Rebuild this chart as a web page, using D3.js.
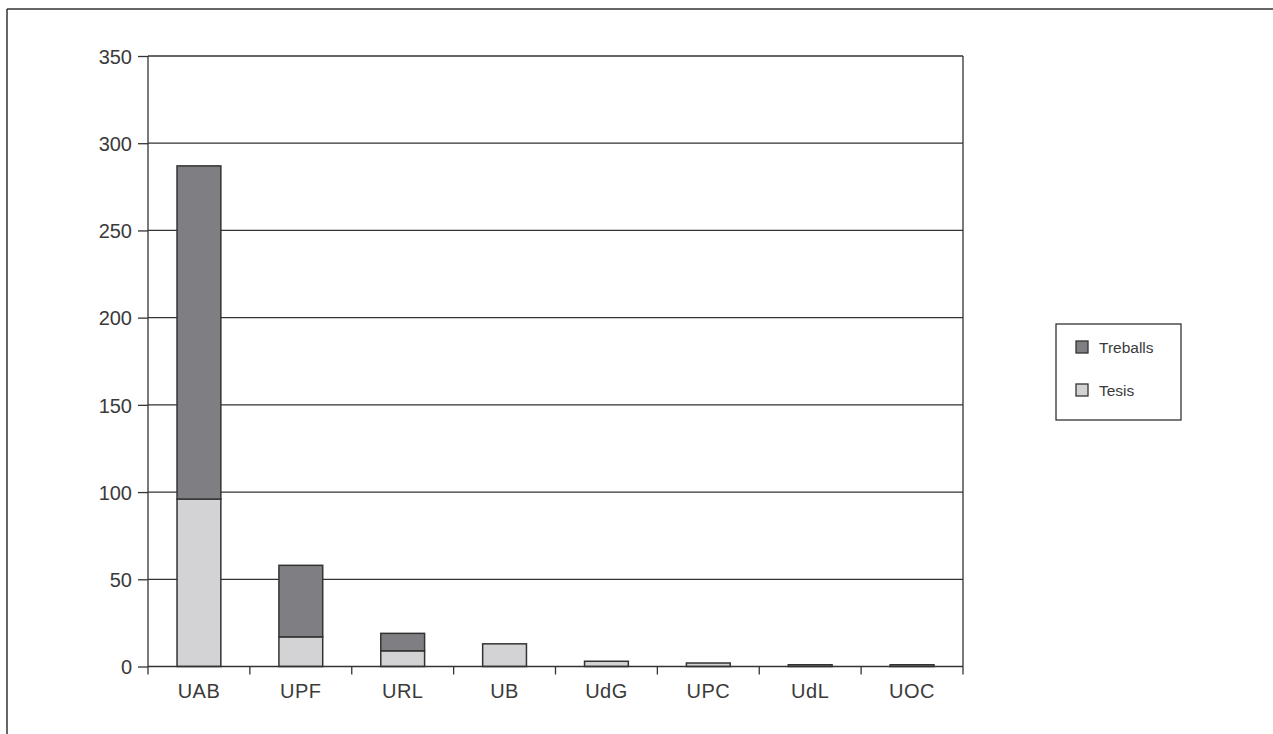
<!DOCTYPE html>
<html>
<head>
<meta charset="utf-8">
<script src="https://cdn.jsdelivr.net/npm/d3@7"></script>
<style>
  html, body { margin: 0; padding: 0; background: #fff; }
  svg { display: block; }
  text { font-family: "Liberation Sans", Arial, Helvetica, sans-serif; fill: #333; }
</style>
</head>
<body>
<svg id="chart" width="1273" height="734"></svg>
<script>
const categories = ["UAB", "UPF", "URL", "UB", "UdG", "UPC", "UdL", "UOC"];
const tesis = [96, 17, 9, 13, 3, 2, 1, 1];
const treballs = [191, 41, 10, 0, 0, 0, 0, 0];
const seriesNames = ["Tesis", "Treballs"];
const yTicks = [0, 50, 100, 150, 200, 250, 300, 350];

(function () {
const colors = { "Tesis": "#d3d3d5", "Treballs": "#7f7f83" };
const stroke = "#333";

const svg = d3.select("#chart");
const W = 1273, H = 734;

// outer frame (top & left)
svg.append("line").attr("x1", 7).attr("y1", 9).attr("x2", W).attr("y2", 9)
  .attr("stroke", stroke).attr("stroke-width", 1.5);
svg.append("line").attr("x1", 7).attr("y1", 9).attr("x2", 7).attr("y2", H)
  .attr("stroke", stroke).attr("stroke-width", 1.5);

const pLeft = 148, pRight = 963, pTop = 56, pBottom = 666.5;

const x = d3.scaleBand().domain(categories).range([pLeft, pRight]).paddingInner(0).paddingOuter(0);
const y = d3.scaleLinear().domain([0, 350]).range([pBottom, pTop]);

const g = svg.append("g");

// gridlines
g.selectAll(".grid").data(yTicks.filter(d => d > 0)).join("line")
  .attr("x1", pLeft).attr("x2", pRight)
  .attr("y1", d => y(d)).attr("y2", d => y(d))
  .attr("stroke", stroke).attr("stroke-width", 1.3);

// right border
g.append("line").attr("x1", pRight).attr("x2", pRight).attr("y1", pTop).attr("y2", pBottom)
  .attr("stroke", stroke).attr("stroke-width", 1.3);

// stacked data
const table = categories.map((c, i) => ({ cat: c, Tesis: tesis[i], Treballs: treballs[i] }));
const stack = d3.stack().keys(seriesNames)(table);

const barW = x.bandwidth() * 0.43;
stack.forEach(layer => {
  g.selectAll(".bar-" + layer.key).data(layer.filter(d => d[1] - d[0] > 0)).join("rect")
    .attr("x", d => x(d.data.cat) + (x.bandwidth() - barW) / 2)
    .attr("width", barW)
    .attr("y", d => y(d[1]))
    .attr("height", d => y(d[0]) - y(d[1]))
    .attr("fill", colors[layer.key])
    .attr("stroke", stroke)
    .attr("stroke-width", 1.5);
});

// y axis
const yAxis = d3.axisLeft(y).tickValues(yTicks).tickSize(10).tickPadding(6).tickFormat(d3.format("d"));
const ya = svg.append("g").attr("transform", `translate(${pLeft},0)`).call(yAxis);
ya.select(".domain").attr("stroke", stroke).attr("stroke-width", 1.3).attr("d", `M0,${pTop}V${pBottom}`);
ya.selectAll(".tick line").attr("stroke", stroke).attr("stroke-width", 1.3);
ya.selectAll(".tick text").style("font-size", "20px").style("fill", "#3a3a3a")
  .attr("font-family", null).attr("dy", "0.36em");

// x axis
const xa = svg.append("g").attr("transform", `translate(0,${pBottom})`)
  .call(d3.axisBottom(x).tickSize(0).tickPadding(0));
xa.select(".domain").attr("stroke", stroke).attr("stroke-width", 1.3).attr("d", `M${pLeft},0H${pRight}`);
xa.selectAll(".tick text").style("font-size", "20px").style("fill", "#3a3a3a")
  .style("letter-spacing", "0.5px")
  .attr("font-family", null).attr("y", 31.5).attr("dy", 0);
// category boundary ticks
const bounds = categories.map(c => x(c)).concat([pRight]);
xa.selectAll(".btick").data(bounds).join("line")
  .attr("x1", d => d).attr("x2", d => d).attr("y1", 0).attr("y2", 8)
  .attr("stroke", stroke).attr("stroke-width", 1.3);

// legend
const lg = svg.append("g");
lg.append("rect").attr("x", 1056).attr("y", 324).attr("width", 125).attr("height", 96)
  .attr("fill", "#fff").attr("stroke", stroke).attr("stroke-width", 1.3);
const legendItems = ["Treballs", "Tesis"];
legendItems.forEach((k, i) => {
  const yy = 341 + i * 43;
  lg.append("rect").attr("x", 1076).attr("y", yy).attr("width", 12).attr("height", 12)
    .attr("fill", colors[k]).attr("stroke", stroke).attr("stroke-width", 1.3);
  lg.append("text").attr("x", 1099).attr("y", yy + 11.5).text(k)
    .style("font-size", "15.5px").style("fill", "#3a3a3a");
});
})();
</script>
</body>
</html>
